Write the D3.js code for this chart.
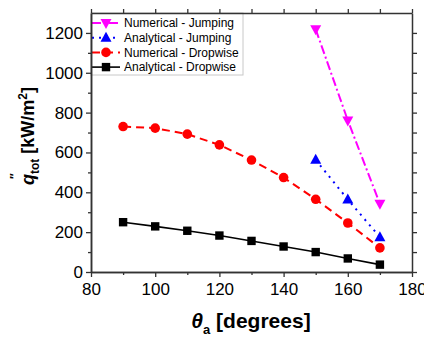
<!DOCTYPE html>
<html><head><meta charset="utf-8">
<script src="https://cdn.jsdelivr.net/npm/d3@7"></script>
<style>body{margin:0;background:#fff}svg{display:block}text{font-family:"Liberation Sans",Arial,sans-serif}</style>
</head><body><svg id="c" width="424" height="339"></svg>
<script>
const angles = [90,100,110,120,130,140,150,160,170];
const numDropwise = [730,722,692,638,562,474,365,246,121];
const anaDropwise = [250,229,207,183,156,128,100,68,37];
const jumpAngles = [150,160,170];
const numJumping = [1218,761,342];
const anaJumping = [563,364,175];
const xTicks = [80,100,120,140,160,180];
const yTicks = [0,200,400,600,800,1000,1200];
const legendLabels = ["Numerical - Jumping","Analytical - Jumping","Numerical - Dropwise","Analytical - Dropwise"];

const svg = d3.select("#c");
const L=91,R=412,T=13,B=272;
const x = d3.scaleLinear().domain([80,180]).range([L,R]);
const y = d3.scaleLinear().domain([0,1300]).range([B,T]);
const axCol="#333";

const series = [
 {xs:jumpAngles, ys:numJumping, color:"#ff00ff", dash:"9,3,2,3", sym:"down", w:2},
 {xs:jumpAngles, ys:anaJumping, color:"#0000ff", dash:"2,5", sym:"up", w:2},
 {xs:angles, ys:numDropwise, color:"#ff0000", dash:"8,5", sym:"circle", w:2},
 {xs:angles, ys:anaDropwise, color:"#000000", dash:null, sym:"square", w:1.6}
];

function marker(g, sym, cx, cy, color){
  if(sym==="circle") g.append("circle").attr("cx",cx).attr("cy",cy).attr("r",4.8).attr("fill",color);
  else if(sym==="square") g.append("rect").attr("x",cx-4.2).attr("y",cy-4.2).attr("width",8.4).attr("height",8.4).attr("fill",color);
  else if(sym==="up") g.append("path").attr("d",`M${cx},${cy-6}L${cx+5.5},${cy+4}L${cx-5.5},${cy+4}Z`).attr("fill",color);
  else g.append("path").attr("d",`M${cx},${cy+6}L${cx+5.5},${cy-4}L${cx-5.5},${cy-4}Z`).attr("fill",color);
}

// plot lines and markers
const plot = svg.append("g");
series.slice().reverse().forEach(s=>{
  const pts = s.xs.map((v,i)=>[x(v),y(s.ys[i])]);
  plot.append("path").attr("d",d3.line()(pts)).attr("fill","none").attr("stroke",s.color)
    .attr("stroke-width",s.w).attr("stroke-dasharray",s.dash);
  pts.forEach(p=>marker(plot,s.sym,p[0],p[1],s.color));
});

// legend
const lg = svg.append("g");
lg.append("rect").attr("x",L).attr("y",T).attr("width",152).attr("height",62)
  .attr("fill","#fff").attr("stroke","#c8c8c8").attr("stroke-width",1);
series.forEach((s,i)=>{
  const yy = 23 + i*14.7;
  lg.append("line").attr("x1",92).attr("x2",120).attr("y1",yy).attr("y2",yy)
    .attr("stroke",s.color).attr("stroke-width",s.w).attr("stroke-dasharray",s.dash);
  marker(lg,s.sym,106,yy,s.color);
  lg.append("text").attr("x",124).attr("y",yy+4.3).attr("font-size",12).attr("fill","#000").text(legendLabels[i]);
});

// axes
const fmt = d3.format("d");
const minorX = d3.range(90,180,20);
const minorY = d3.range(100,1300,200);
function styleAxis(g){ g.select(".domain").attr("stroke",axCol).attr("stroke-width",1.5);
  g.selectAll(".tick line").attr("stroke",axCol).attr("stroke-width",1.3); }

const gb = svg.append("g").attr("transform",`translate(0,${B})`)
  .call(d3.axisBottom(x).tickValues(xTicks).tickFormat(fmt).tickSize(5).tickPadding(6).tickSizeOuter(0));
gb.selectAll("text").attr("font-size",17).attr("fill","#000").attr("font-family","Liberation Sans, Arial");
styleAxis(gb);
const gbm = svg.append("g").attr("transform",`translate(0,${B})`)
  .call(d3.axisBottom(x).tickValues(minorX).tickFormat("").tickSize(3).tickSizeOuter(0));
styleAxis(gbm);

const gl = svg.append("g").attr("transform",`translate(${L},0)`)
  .call(d3.axisLeft(y).tickValues(yTicks).tickFormat(fmt).tickSize(5).tickPadding(3).tickSizeOuter(0));
gl.selectAll("text").attr("font-size",17).attr("fill","#000").attr("font-family","Liberation Sans, Arial");
styleAxis(gl);
const glm = svg.append("g").attr("transform",`translate(${L},0)`)
  .call(d3.axisLeft(y).tickValues(minorY).tickFormat("").tickSize(3).tickSizeOuter(0));
styleAxis(glm);

const gt = svg.append("g").attr("transform",`translate(0,${T})`)
  .call(d3.axisTop(x).tickValues(xTicks.concat(minorX)).tickFormat("").tickSize(4).tickSizeOuter(0));
styleAxis(gt);
const gr = svg.append("g").attr("transform",`translate(${R},0)`)
  .call(d3.axisRight(y).tickValues(yTicks.concat(minorY)).tickFormat("").tickSize(5).tickSizeOuter(0));
styleAxis(gr);

// axis titles
const xt = svg.append("text").attr("x",251).attr("y",328).attr("text-anchor","middle")
  .attr("font-size",21).attr("font-weight","bold").attr("fill","#000");
xt.append("tspan").attr("font-style","italic").text("θ");
xt.append("tspan").attr("font-size",13).attr("dy",6).text("a");
xt.append("tspan").attr("dy",-6).text(" [degrees]");

const yt = svg.append("text").attr("transform","translate(34,136) rotate(-90)").attr("text-anchor","middle")
  .attr("font-size",18).attr("font-weight","bold").attr("fill","#000");
yt.append("tspan").attr("font-style","italic").text("q");
yt.append("tspan").attr("font-size",12).attr("dy",5).text("tot");
yt.append("tspan").attr("dy",-5).text(" [kW/m");
yt.append("tspan").attr("font-size",12).attr("dy",-7).text("2");
yt.append("tspan").attr("dy",7).text("]");
svg.append("text").attr("transform","translate(19,176) rotate(-90)").attr("text-anchor","middle")
  .attr("font-size",12).attr("font-weight","bold").attr("fill","#000").text("\u2033");
</script></body></html>
